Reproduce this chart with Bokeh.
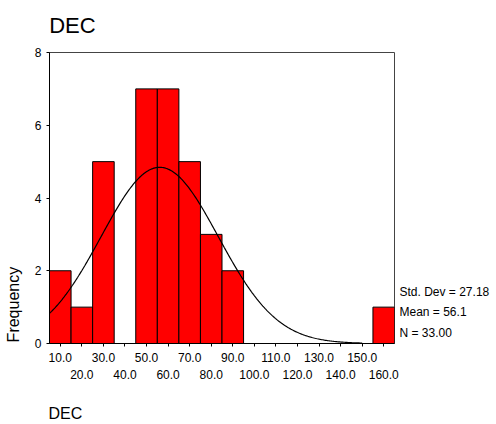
import numpy as np
from bokeh.plotting import figure
from bokeh.models import LinearAxis, FixedTicker, ColumnDataSource
from bokeh.embed import file_html
from bokeh.resources import INLINE

# data
bin_centers = [10, 20, 30, 40, 50, 60, 70, 80, 90, 100, 110, 120, 130, 140, 150, 160]
counts = [2, 1, 5, 0, 7, 7, 5, 3, 2, 0, 0, 0, 0, 0, 0, 1]
bin_width = 10
stat_mean = 56.1
stat_sd = 27.18
stat_n = 33
stats_lines = ["Std. Dev = 27.18", "Mean = 56.1", "N = 33.00"]
y_ticks = [0, 2, 4, 6, 8]
title_text = "DEC"
x_title_text = "DEC"
y_title_text = "Frequency"

FONT = "Liberation Sans"


def text_axis(label, anchor, size, standoff, orientation="horizontal"):
    ax = LinearAxis(ticker=FixedTicker(ticks=[anchor]))
    ax.major_label_overrides = {anchor: label}
    ax.axis_line_color = None
    ax.major_tick_line_color = None
    ax.minor_tick_line_color = None
    ax.major_tick_in = 0
    ax.major_tick_out = 0
    ax.major_label_standoff = standoff
    ax.major_label_text_font = FONT
    ax.major_label_text_font_size = size
    ax.major_label_text_color = "black"
    ax.major_label_orientation = orientation
    return ax


p = figure(width=496, height=424, output_backend="svg", toolbar_location=None,
           x_range=(5, 165), y_range=(0, 8), x_axis_location=None,
           min_border_left=49, min_border_right=102, min_border_top=52, min_border_bottom=80)
p.background_fill_color = "white"
p.border_fill_color = "white"
p.outline_line_color = "#444444"
p.outline_line_width = 1
p.xgrid.visible = False
p.ygrid.visible = False

src = ColumnDataSource(dict(x=bin_centers, top=counts))
p.vbar(x="x", top="top", width=bin_width, bottom=0, source=src,
       fill_color="#ff0000", line_color="black", line_width=1)

xs = np.linspace(5, 150, 300)
ys = stat_n * bin_width / (stat_sd * np.sqrt(2 * np.pi)) * np.exp(-0.5 * ((xs - stat_mean) / stat_sd) ** 2)
p.line(xs, ys, line_color="black", line_width=1.2)

# y axis
ya = p.yaxis[0]
ya.ticker = FixedTicker(ticks=y_ticks)
ya.minor_tick_line_color = None
ya.major_tick_in = 0
ya.major_tick_out = 3
ya.major_label_text_font = FONT
ya.major_label_text_font_size = "12px"
ya.major_label_text_color = "black"
ya.major_label_standoff = 5
ya.axis_line_color = "black"

# x axes, two rows of labels
ax1 = LinearAxis(ticker=FixedTicker(ticks=bin_centers))
ax1.major_label_overrides = {v: (f"{v:.1f}" if (v // 10) % 2 == 1 else "") for v in bin_centers}
ax1.minor_tick_line_color = None
ax1.major_tick_in = 0
ax1.major_tick_out = 3
ax1.major_label_standoff = 6
ax1.major_label_text_font = FONT
ax1.major_label_text_font_size = "12px"
ax1.major_label_text_color = "black"
ax1.axis_line_color = "black"
p.add_layout(ax1, "below")

even = [v for v in bin_centers if (v // 10) % 2 == 0]
ax2 = LinearAxis(ticker=FixedTicker(ticks=even))
ax2.major_label_overrides = {v: f"{v:.1f}" for v in even}
ax2.axis_line_color = None
ax2.major_tick_line_color = None
ax2.minor_tick_line_color = None
ax2.major_tick_in = 0
ax2.major_tick_out = 0
ax2.major_label_standoff = 5
ax2.major_label_text_font = FONT
ax2.major_label_text_font_size = "12px"
ax2.major_label_text_color = "black"
p.add_layout(ax2, "below")

# outer texts placed as single-label axes
p.add_layout(text_axis(x_title_text, 12.4, "16px", 23), "below")
p.add_layout(text_axis(title_text, 15.6, "22px", 15), "above")
p.add_layout(text_axis(y_title_text, 1.07, "16px", 9, "vertical"), "left")

stat_anchor = [1.42, 0.87, 0.30]
sa = LinearAxis(ticker=FixedTicker(ticks=stat_anchor))
sa.major_label_overrides = dict(zip(stat_anchor, stats_lines))
sa.axis_line_color = None
sa.major_tick_line_color = None
sa.minor_tick_line_color = None
sa.major_tick_in = 0
sa.major_tick_out = 0
sa.major_label_standoff = 5
sa.major_label_text_font = FONT
sa.major_label_text_font_size = "12px"
sa.major_label_text_color = "black"
p.add_layout(sa, "right")

open("out.html", "w").write(file_html(p, INLINE))
